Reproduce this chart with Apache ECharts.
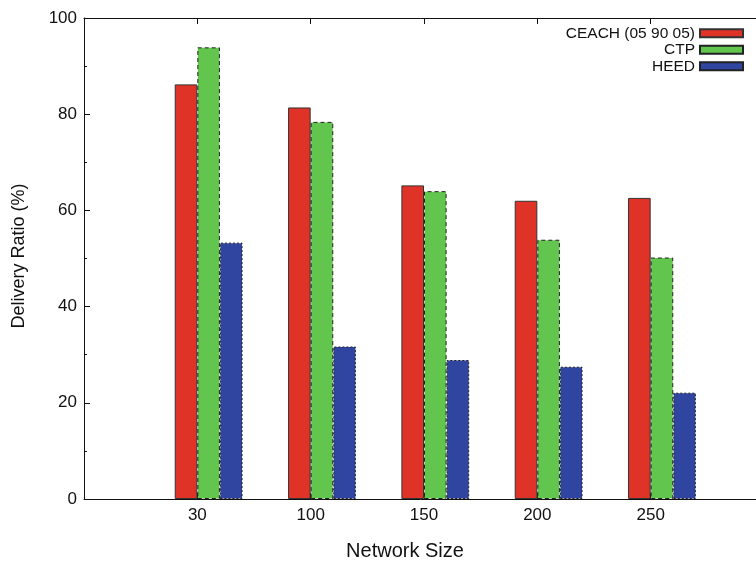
<!DOCTYPE html>
<html>
<head>
<meta charset="utf-8">
<script src="https://cdn.jsdelivr.net/npm/echarts@6/dist/echarts.min.js"></script>
<style>html,body{margin:0;padding:0;background:#fff;}#c{width:756px;height:561px;}</style>
</head>
<body>
<div id="c"></div>
<script>
var categories = ['', '30', '100', '150', '200', '250', ''];
var ceach = [null, 86.2, 81.4, 65.2, 62.0, 62.6, null];
var ctp = [null, 93.9, 78.4, 64.0, 53.9, 50.2, null];
var heed = [null, 53.3, 31.7, 28.9, 27.5, 22.1, null];
var yTicks = [0, 20, 40, 60, 80, 100];
var seriesNames = ['CEACH (05 90 05)', 'CTP', 'HEED'];

var FONT = 'Liberation Sans, Arial, Helvetica, sans-serif';
var chart = echarts.init(document.getElementById('c'), null, {renderer: 'canvas'});
var BW = 22.6;
var option = {
  animation: false,
  backgroundColor: '#fff',
  grid: {left: 84, right: -8, top: 18, bottom: 62, outerBoundsMode: 'none', containLabel: false},
  legend: {
    data: seriesNames,
    orient: 'vertical',
    right: 12,
    top: 25,
    padding: 0,
    align: 'right',
    icon: 'rect',
    itemWidth: 43,
    itemHeight: 8,
    itemGap: 0,
    textStyle: {fontFamily: FONT, fontSize: 15.5, color: '#111', lineHeight: 16.5}
  },
  xAxis: [{
    type: 'category',
    data: categories,
    boundaryGap: false,
    axisLine: {lineStyle: {color: '#111', width: 1}},
    axisTick: {show: true, inside: true, length: 6, lineStyle: {color: '#111'}},
    axisLabel: {fontFamily: FONT, fontSize: 17, color: '#111', margin: 8},
    splitLine: {show: false}
  }, {
    type: 'category',
    data: categories,
    boundaryGap: false,
    position: 'top',
    axisLine: {lineStyle: {color: '#111', width: 1}},
    axisTick: {show: true, inside: true, length: 6, lineStyle: {color: '#111'}},
    axisLabel: {show: false},
    splitLine: {show: false}
  }],
  yAxis: {
    type: 'value',
    min: 0, max: 100, interval: 20,
    axisLine: {show: true, lineStyle: {color: '#111', width: 1}},
    axisTick: {show: true, inside: true, length: 6, lineStyle: {color: '#111'}},
    minorTick: {show: true, splitNumber: 2, length: 3, lineStyle: {color: '#111'}},
    axisLabel: {fontFamily: FONT, fontSize: 17, color: '#111', margin: 7,
      formatter: function (v) { return yTicks.indexOf(v) >= 0 ? String(v) : ''; }},
    splitLine: {show: false}
  },
  graphic: [
    {type: 'text', x: 405, y: 551, style: {text: 'Network Size', font: '20px ' + FONT, fill: '#111', textAlign: 'center', textVerticalAlign: 'middle'}},
    {type: 'text', rotation: Math.PI / 2, x: 19, y: 256, style: {text: 'Delivery Ratio (%)', font: '18px ' + FONT, fill: '#111', textAlign: 'center', textVerticalAlign: 'middle'}}
  ],
  series: [
    {name: '_pad', type: 'bar', data: [], barWidth: BW, barGap: 0, silent: true},
    {name: seriesNames[0], type: 'bar', data: ceach, barWidth: BW, barGap: 0,
      itemStyle: {color: '#e03328', borderColor: '#333', borderWidth: 1, borderType: 'solid'}},
    {name: seriesNames[1], type: 'bar', data: ctp, barWidth: BW, barGap: 0,
      itemStyle: {color: '#62c54e', borderColor: '#222', borderWidth: 1, borderType: [4, 3]}},
    {name: seriesNames[2], type: 'bar', data: heed, barWidth: BW, barGap: 0,
      itemStyle: {color: '#2f45a0', borderColor: '#222', borderWidth: 1, borderType: [2, 2]}}
  ]
};
chart.setOption(option);
</script>
</body>
</html>
